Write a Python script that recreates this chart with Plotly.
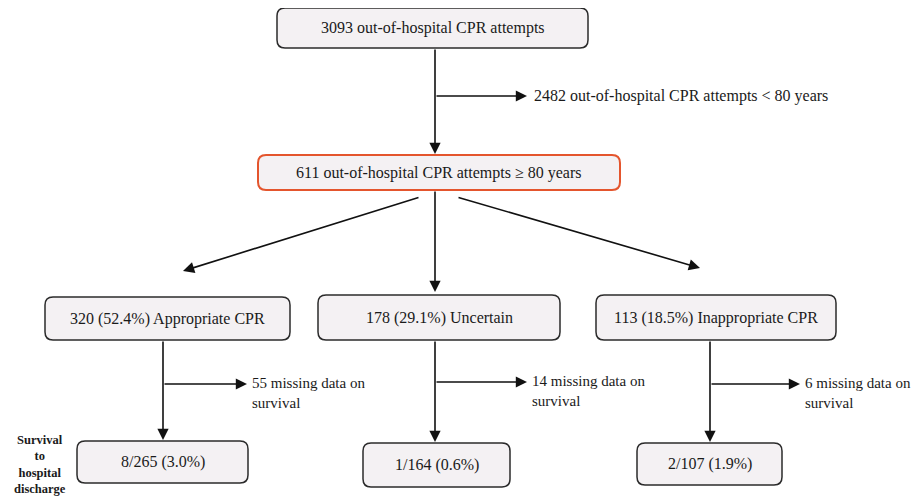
import plotly.graph_objects as go

# ---- data ----
total_attempts = 3093
under80_attempts = 2482
over80_attempts = 611
group_names = ["Appropriate CPR", "Uncertain", "Inappropriate CPR"]
group_n = [320, 178, 113]
group_pct = [52.4, 29.1, 18.5]
missing_survival = [55, 14, 6]
survivors = [8, 1, 2]
survival_denom = [265, 164, 107]
survival_pct = [3.0, 0.6, 1.9]
row_label = "Survival<br>to<br>hospital<br>discharge"

# ---- layout config (pixel coordinates of the page) ----
W, H = 922, 498
OFF = 8  # page body margin
FONT = "Times New Roman, Liberation Serif, DejaVu Serif, serif"
FS = 16
FILL = "#f4f1f3"
EDGE = "#2b2b2b"
ORANGE = "#e4552d"

top_box = (277, 8, 588, 48)
mid_box = (258, 155, 620, 190)
grp_boxes = [(45, 297, 290, 340), (318, 295, 560, 340), (596, 295, 836, 340)]
grp_x = [163, 435, 710]
branch_y = [384, 382, 384]
branch_tip = [247, 527, 800]
bot_boxes = [(77, 441, 248, 483), (363, 443, 510, 487), (637, 443, 782, 485)]

fig = go.Figure()
shapes = []
annotations = []


def rrect(b, color, width, r=8):
    x0, y0, x1, y1 = b
    path = (f"M{x0+r},{y0} L{x1-r},{y0} Q{x1},{y0} {x1},{y0+r} "
            f"L{x1},{y1-r} Q{x1},{y1} {x1-r},{y1} L{x0+r},{y1} "
            f"Q{x0},{y1} {x0},{y1-r} L{x0},{y0+r} Q{x0},{y0} {x0+r},{y0} Z")
    shapes.append(dict(type="path", path=path, xref="x", yref="y",
                       fillcolor=FILL, line=dict(color=color, width=width), layer="below"))


def label(x, y, text, xanchor="center", size=FS, bold=False, align="center"):
    annotations.append(dict(x=x, y=y, xref="x", yref="y", text=f"<b>{text}</b>" if bold else text,
                            showarrow=False, xanchor=xanchor, yanchor="middle",
                            font=dict(family=FONT, size=size, color="#1a1a1a"), align=align))


def arrow(x0, y0, x1, y1):
    annotations.append(dict(x=x1, y=y1, ax=x0, ay=y0, xref="x", yref="y", axref="x", ayref="y",
                            text="", showarrow=True, arrowhead=2, arrowsize=1.4,
                            arrowwidth=1.6, arrowcolor="#111", standoff=0))


# top box
rrect(top_box, EDGE, 1.5)
label((top_box[0] + top_box[2]) / 2, (top_box[1] + top_box[3]) / 2,
      f"{total_attempts} out-of-hospital CPR attempts")
arrow(435, top_box[3], 435, mid_box[1] - 1)
arrow(435, 96, 527, 96)
label(532, 96, f"{under80_attempts} out-of-hospital CPR attempts &lt; 80 years", xanchor="left")

# middle box
rrect(mid_box, ORANGE, 2)
label((mid_box[0] + mid_box[2]) / 2, (mid_box[1] + mid_box[3]) / 2,
      f"{over80_attempts} out-of-hospital CPR attempts ≥ 80 years")

arrow(420, 197, 183, 271)
arrow(435, mid_box[3], 435, 292)
arrow(457, 197, 700, 268)

for i in range(3):
    b = grp_boxes[i]
    rrect(b, EDGE, 1.5)
    label((b[0] + b[2]) / 2, (b[1] + b[3]) / 2,
          f"{group_n[i]} ({group_pct[i]:.1f}%) {group_names[i]}")
    bb = bot_boxes[i]
    arrow(grp_x[i], b[3], grp_x[i], bb[1] - 1)
    arrow(grp_x[i], branch_y[i], branch_tip[i], branch_y[i])
    label(branch_tip[i] + 3, branch_y[i] + 9,
          f"{missing_survival[i]} missing data on<br>survival", xanchor="left", align="left", size=15)
    rrect(bb, EDGE, 1.5)
    label((bb[0] + bb[2]) / 2, (bb[1] + bb[3]) / 2,
          f"{survivors[i]}/{survival_denom[i]} ({survival_pct[i]:.1f}%)")

label(40, 464, row_label, size=12.5, bold=True)

fig.update_layout(
    width=W - OFF, height=H - OFF, margin=dict(l=0, r=0, t=0, b=0),
    paper_bgcolor="white", plot_bgcolor="white",
    xaxis=dict(range=[OFF, W], visible=False, fixedrange=True),
    yaxis=dict(range=[H, OFF], visible=False, fixedrange=True),
    shapes=shapes, annotations=annotations, showlegend=False,
)
fig.write_html("out.html")
